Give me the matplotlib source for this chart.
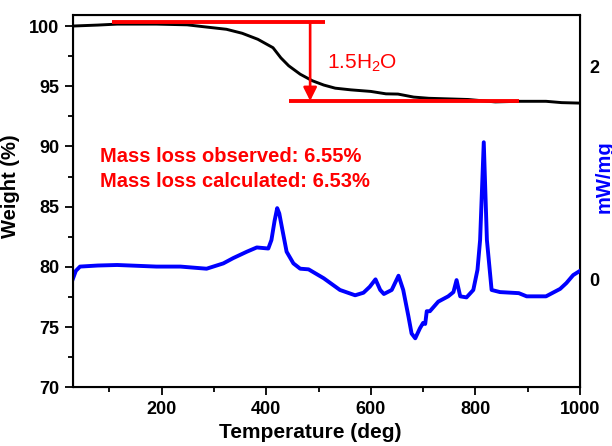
import matplotlib
matplotlib.use('Agg')
import matplotlib.pyplot as plt
from matplotlib.ticker import MultipleLocator

plt.rcParams['font.family'] = ['Liberation Sans', 'DejaVu Sans']
plt.rcParams['mathtext.fontset'] = 'custom'
plt.rcParams['mathtext.rm'] = 'Liberation Sans'
plt.rcParams['mathtext.default'] = 'regular'

# TGA curve (weight %)
tga_temp = [30, 78, 115, 190, 249, 279, 324, 354, 384, 413, 428, 443, 465, 488, 510,
            532, 562, 600, 629, 652, 682, 711, 786, 838, 883, 935, 965, 1000]
tga_weight = [100.0, 100.08, 100.16, 100.16, 100.1, 99.95, 99.73, 99.4, 98.9, 98.2, 97.36,
              96.7, 96.0, 95.46, 95.1, 94.84, 94.7, 94.57, 94.37, 94.35, 94.1, 94.0, 93.9,
              93.7, 93.75, 93.75, 93.64, 93.6]

# DSC curve (mW/mg)
dsc_temp = [30, 36, 44, 78, 115, 190, 236, 286, 318, 337, 363, 382, 404, 410, 416, 421,
            425, 430, 439, 452, 465, 481, 510, 541, 570, 586, 598, 609, 618, 625, 640,
            653, 662, 672, 678, 685, 694, 700, 704, 707, 713, 729, 748, 758, 764, 771,
            783, 796, 804, 809, 816, 822, 831, 847, 883, 898, 924, 935, 962, 974, 987, 1000]
dsc_signal = [0.0, 0.08, 0.12, 0.13, 0.135, 0.12, 0.12, 0.10, 0.15, 0.20, 0.26, 0.30, 0.29,
              0.37, 0.55, 0.67, 0.62, 0.49, 0.26, 0.15, 0.10, 0.094, 0.01, -0.10, -0.15,
              -0.126, -0.07, 0.0, -0.10, -0.138, -0.10, 0.034, -0.10, -0.35, -0.51, -0.555,
              -0.46, -0.41, -0.42, -0.30, -0.30, -0.21, -0.16, -0.12, -0.007, -0.16, -0.17,
              -0.10, 0.09, 0.37, 1.29, 0.37, -0.10, -0.12, -0.13, -0.16, -0.16, -0.16,
              -0.09, -0.035, 0.04, 0.08]

# annotation values
step_top, step_bottom = 100.33, 93.78
top_span = (106, 512)
bottom_span = (443, 883)
arrow_x = 484
notes = ['Mass loss observed: 6.55%', 'Mass loss calculated: 6.53%']

fig = plt.figure(figsize=(6.12, 4.46), dpi=100)
ax = fig.add_axes([0.1188, 0.1316, 0.8289, 0.8354])
ax2 = ax.twinx()

ax.plot(tga_temp, tga_weight, color='black', lw=2.1)
ax2.plot(dsc_temp, dsc_signal, color='blue', lw=2.8)

red = '#ff0000'
ax.plot(top_span, [step_top, step_top], color=red, lw=2.8, solid_capstyle='butt')
ax.plot(bottom_span, [step_bottom, step_bottom], color=red, lw=2.8, solid_capstyle='butt')
ax.annotate('', xy=(arrow_x, step_bottom), xytext=(arrow_x, step_top),
            arrowprops=dict(arrowstyle='-|>', color=red, lw=1.9, mutation_scale=20,
                            shrinkA=0, shrinkB=0))
ax.text(516, 96.93, '1.5H$_2$O', color=red, fontsize=15, va='center', ha='left')
ax.text(82, 89.2, notes[0], color=red, fontsize=14.5, fontweight='bold', va='center')
ax.text(82, 87.07, notes[1], color=red, fontsize=14.5, fontweight='bold', va='center')

ax.set_xlim(30, 1000)
ax.set_ylim(70, 100.94)
ax2.set_ylim(-1.016, 2.49)

ax.xaxis.set_major_locator(MultipleLocator(200))
ax.xaxis.set_minor_locator(MultipleLocator(100))
ax.yaxis.set_major_locator(MultipleLocator(5))
ax.yaxis.set_minor_locator(MultipleLocator(2.5))
ax.tick_params(which='major', length=5.5, width=1.3, labelsize=13, pad=4)
ax.tick_params(which='minor', length=3.5, width=1.3)
for lab in ax.get_xticklabels() + ax.get_yticklabels():
    lab.set_fontweight('bold')

ax2.set_yticks([0, 2])
ax2.tick_params(axis='y', length=0, pad=7, labelsize=13)
for lab in ax2.get_yticklabels():
    lab.set_fontweight('bold')

for sp in ax.spines.values():
    sp.set_linewidth(1.5)

ax.set_xlabel('Temperature (deg)', fontsize=15, fontweight='bold')
ax.set_ylabel('Weight (%)', fontsize=14.5, fontweight='bold')
ax2.set_ylabel('mW/mg', fontsize=14.5, fontweight='bold', color='blue')
ax.xaxis.set_label_coords(0.469, -0.096)
ax.yaxis.set_label_coords(-0.104, 0.54)
ax2.yaxis.set_label_coords(1.028, 0.565)

fig.savefig('out.png', dpi=100)
